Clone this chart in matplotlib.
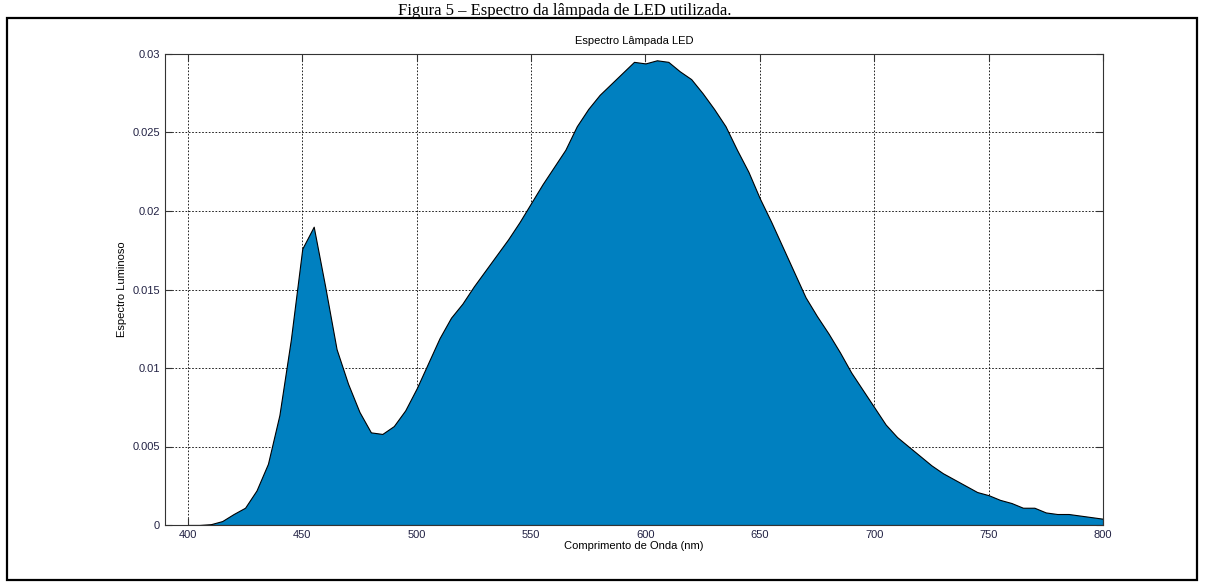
import matplotlib
matplotlib.use("Agg")
import matplotlib.pyplot as plt
from matplotlib.patches import Rectangle

# wavelength (nm) and relative spectral power
wavelength = [400, 405, 410, 415, 420, 425, 430, 435, 440, 445,
              450, 455, 460, 465, 470, 475, 480, 485, 490, 495,
              500, 505, 510, 515, 520, 525, 530, 535, 540, 545,
              550, 555, 560, 565, 570, 575, 580, 585, 590, 595,
              600, 605, 610, 615, 620, 625, 630, 635, 640, 645,
              650, 655, 660, 665, 670, 675, 680, 685, 690, 695,
              700, 705, 710, 715, 720, 725, 730, 735, 740, 745,
              750, 755, 760, 765, 770, 775, 780, 785, 790, 795, 800]
spectrum = [0.0, 0.0, 0.00005, 0.00025, 0.0007, 0.0011, 0.0022, 0.0039, 0.0070, 0.0118,
            0.0176, 0.0190, 0.0152, 0.0112, 0.0090, 0.0072, 0.0059, 0.0058, 0.0063, 0.0073,
            0.0087, 0.0103, 0.0119, 0.0132, 0.0141, 0.0152, 0.0162, 0.0172, 0.0182, 0.0193,
            0.0205, 0.0217, 0.0228, 0.0239, 0.0254, 0.0265, 0.0274, 0.0281, 0.0288, 0.0295,
            0.0294, 0.0296, 0.0295, 0.0289, 0.0284, 0.0275, 0.0265, 0.0254, 0.0239, 0.0225,
            0.0208, 0.0193, 0.0177, 0.0161, 0.0145, 0.0133, 0.0122, 0.0110, 0.0097, 0.0086,
            0.0075, 0.0064, 0.0056, 0.0050, 0.0044, 0.0038, 0.0033, 0.0029, 0.0025, 0.0021,
            0.0019, 0.0016, 0.0014, 0.0011, 0.0011, 0.0008, 0.0007, 0.0007, 0.0006, 0.0005,
            0.0004]

x_ticks = [400, 450, 500, 550, 600, 650, 700, 750, 800]
y_ticks = [0, 0.005, 0.01, 0.015, 0.02, 0.025, 0.03]
y_ticklabels = ["0", "0.005", "0.01", "0.015", "0.02", "0.025", "0.03"]

plt.rcParams["font.family"] = ["Liberation Sans", "DejaVu Sans"]

fig = plt.figure(figsize=(12.06, 5.84), dpi=100)

# caption above the framed figure
fig.text(0.468, 1 - 15 / 584, "Figura 5 – Espectro da lâmpada de LED utilizada.",
         family=["Liberation Serif", "DejaVu Serif"], fontsize=12,
         ha="center", va="baseline", color="black")

# outer frame
fig.add_artist(Rectangle((7 / 1206, 4 / 584), 1190 / 1206, 562 / 584,
                         transform=fig.transFigure, fill=False,
                         edgecolor="black", linewidth=1.6))

ax = fig.add_axes([165 / 1206, 59 / 584, 938 / 1206, 471 / 584])
ax.fill_between(wavelength, spectrum, 0, facecolor="#0080c0",
                edgecolor="black", linewidth=0.8, zorder=2)

ax.set_xlim(390, 800)
ax.set_ylim(0, 0.03)
ax.set_xticks(x_ticks)
ax.set_yticks(y_ticks)
ax.set_yticklabels(y_ticklabels)
ax.grid(True, color="black", linestyle=(0, (2, 2)), linewidth=0.6, zorder=1)
ax.set_axisbelow(True)
ax.tick_params(direction="in", top=True, right=True, labelsize=8, length=5,
               colors="#333333", labelcolor="#222244")
for spine in ax.spines.values():
    spine.set_color("#333333")
    spine.set_linewidth(0.8)
    spine.set_zorder(3)

ax.set_xlabel("Comprimento de Onda (nm)", fontsize=8, labelpad=1)
ax.set_ylabel("Espectro Luminoso", fontsize=8, labelpad=4)
ax.set_title("Espectro Lâmpada LED", fontsize=8, pad=7)

fig.savefig("out.png", dpi=100)
